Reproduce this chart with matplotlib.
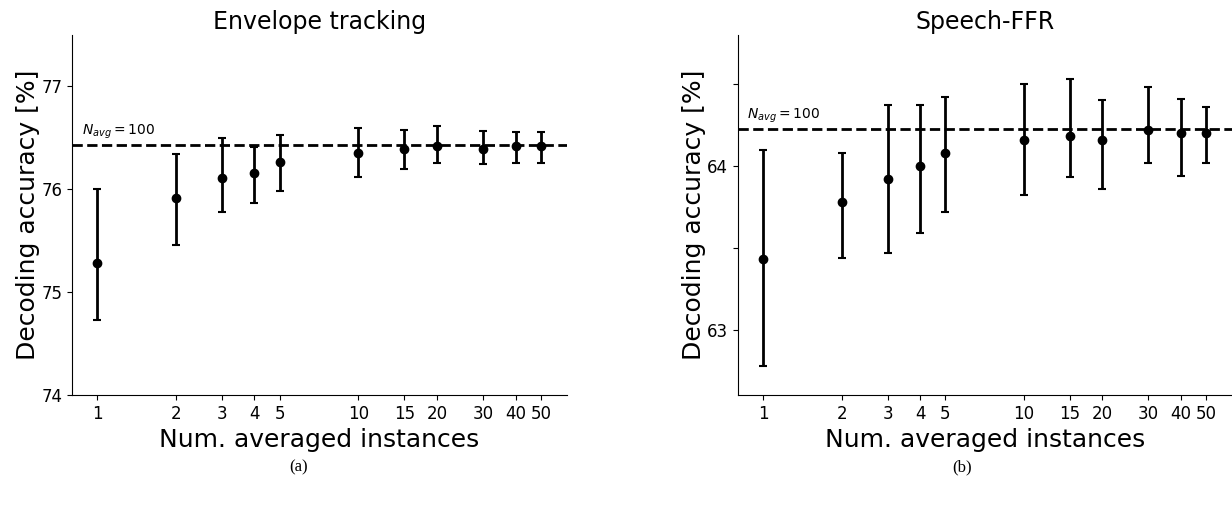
import numpy as np
import matplotlib
matplotlib.use("Agg")
import matplotlib.pyplot as plt

# =========================
# DADOS
# =========================
n_avg = [1, 2, 3, 4, 5, 10, 15, 20, 30, 40, 50]
xtick_labels = ["1", "2", "3", "4", "5", "10", "15", "20", "30", "40", "50"]

# Envelope tracking
env_mean = [75.28, 75.92, 76.11, 76.16, 76.27, 76.35, 76.39, 76.42, 76.39, 76.42, 76.42]
env_low = [74.73, 75.46, 75.78, 75.87, 75.98, 76.12, 76.20, 76.26, 76.25, 76.26, 76.26]
env_high = [76.00, 76.34, 76.50, 76.41, 76.53, 76.60, 76.58, 76.62, 76.57, 76.56, 76.56]
env_ref = 76.43

# Speech-FFR
ffr_mean = [63.43, 63.78, 63.92, 64.00, 64.08, 64.16, 64.18, 64.16, 64.22, 64.20, 64.20]
ffr_low = [62.78, 63.44, 63.47, 63.59, 63.72, 63.82, 63.93, 63.86, 64.02, 63.94, 64.02]
ffr_high = [64.10, 64.08, 64.37, 64.37, 64.42, 64.50, 64.53, 64.40, 64.48, 64.41, 64.36]
ffr_ref = 64.225

paineis = [
    {"titulo": "Envelope tracking", "media": env_mean, "low": env_low, "high": env_high,
     "ref": env_ref, "ylim": (74, 77.5), "yticks": [74, 75, 76, 77],
     "yticklabels": ["74", "75", "76", "77"], "legenda": "(a)"},
    {"titulo": "Speech-FFR", "media": ffr_mean, "low": ffr_low, "high": ffr_high,
     "ref": ffr_ref, "ylim": (62.6, 64.8), "yticks": [63, 63.5, 64, 64.5],
     "yticklabels": ["63", "", "64", ""], "legenda": "(b)"},
]

# =========================
# FIGURA
# =========================
fig = plt.figure(figsize=(12.32, 5.08), dpi=100)

posicoes = [
    [72 / 1232, 113 / 508, 495 / 1232, 360 / 508],
    [738 / 1232, 113 / 508, 494 / 1232, 360 / 508],
]
legenda_x = [299 / 1232, 962 / 1232]

for p, pos, lx in zip(paineis, posicoes, legenda_x):
    ax = fig.add_axes(pos)

    media = np.array(p["media"])
    yerr = [media - np.array(p["low"]), np.array(p["high"]) - media]

    ax.errorbar(n_avg, media, yerr=yerr, fmt="o", color="black",
                markersize=6, elinewidth=2, capsize=3, capthick=1.5)
    ax.axhline(p["ref"], color="black", linestyle="--", linewidth=2)
    ax.annotate(r"$N_{avg} = 100$", xy=(0.87, p["ref"]), xytext=(0, 3),
                textcoords="offset points", fontsize=10, va="bottom", ha="left")

    ax.set_xscale("log")
    ax.set_xlim(0.8, 63)
    ax.set_xticks(n_avg)
    ax.set_xticklabels(xtick_labels)
    ax.minorticks_off()
    ax.set_ylim(p["ylim"])
    ax.set_yticks(p["yticks"])
    ax.set_yticklabels(p["yticklabels"])
    ax.tick_params(labelsize=12)

    ax.spines["top"].set_visible(False)
    ax.spines["right"].set_visible(False)

    ax.set_title(p["titulo"], fontsize=17, pad=4)
    ax.set_xlabel("Num. averaged instances", fontsize=18)
    ax.set_ylabel("Decoding accuracy [%]", fontsize=18, labelpad=1)

    fig.text(lx, 1 - 467 / 508, p["legenda"], ha="center", va="center",
             fontsize=12, family="Liberation Serif")

fig.savefig("out.png", dpi=100)
